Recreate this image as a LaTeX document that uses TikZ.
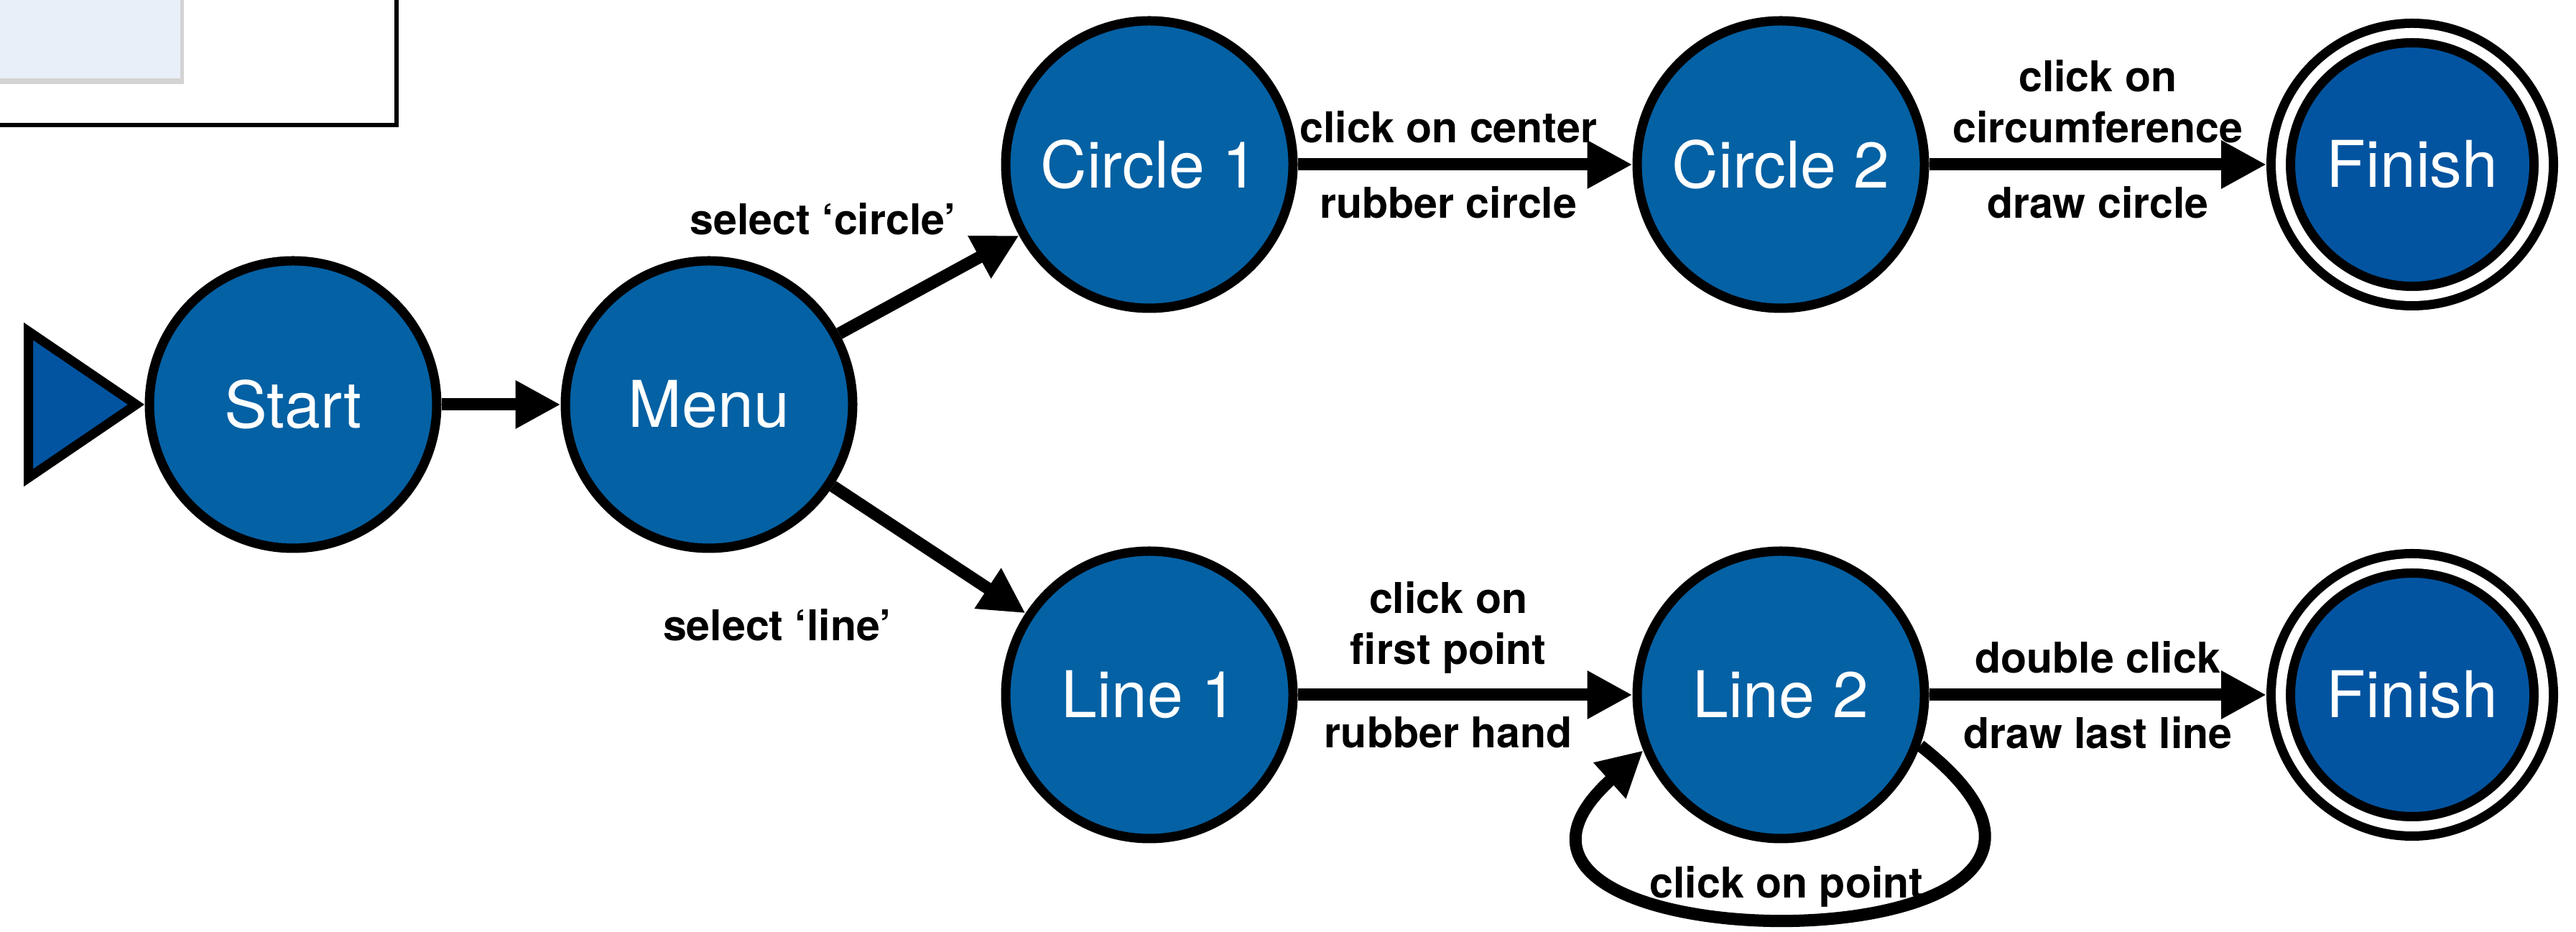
\documentclass[tikz,border=0pt]{standalone}
\usepackage{fontspec}
\setmainfont{TeX Gyre Heros}
\usepackage{tikz}
\usetikzlibrary{arrows.meta,shadows}
\definecolor{nodeblue}{HTML}{0461A4}
\definecolor{finblue}{HTML}{0254A0}
\definecolor{boxfill}{HTML}{E8EFF9}

\begin{document}
\begin{tikzpicture}
		\useasboundingbox (0,0) rectangle (35.86,12.97);
		\clip (0,0) rectangle (35.86,12.97);
		\tikzstyle{state}=[circle,draw=black,line width=1.3mm,fill=nodeblue,text=white,minimum size=4cm,inner sep=0pt,font=\fontsize{25.5}{30}\selectfont]
		\tikzstyle{accept}=[state,fill=finblue,minimum size=3.66cm,double,double distance=1.4mm,outer sep=2mm]
		\tikzstyle{trans}=[line width=1.7mm,-{Triangle[length=6.3mm,width=6.3mm]}]
		\tikzstyle{lab}=[font=\bfseries\fontsize{16.8}{20.2}\selectfont,inner sep=0pt,align=center]
		\tikzstyle{labup}=[lab,anchor=south,yshift=2.1mm]
		\tikzstyle{labdown}=[lab,anchor=north,yshift=-2.2mm]
		\fill[boxfill,drop shadow={shadow xshift=0.5mm,shadow yshift=-0.8mm,opacity=0.35}] (-1,11.88) rectangle (2.51,14);
		\draw[line width=0.6mm] (-1,11.23) rectangle (5.52,14);
		\node[state] (start) at (4.08,7.34) {Start};
		\node[state] (menu) at (9.87,7.34) {Menu};
		\node[state] (circ_1) at (16.00,10.68) {Circle 1};
		\node[state] (circ_2) at (24.79,10.68) {Circle 2};
		\node[accept] (fin_1) at (33.58,10.68) {Finish};
		\node[state] (line_1) at (16.00,3.30) {Line 1};
		\node[state] (line_2) at (24.79,3.30) {Line 2};
		\node[accept] (fin_2) at (33.58,3.30) {Finish};
		\draw[line width=1.3mm,fill=finblue,line join=miter] (start.west) ++(-0.12,0) -- ++(-1.5,1.02) -- ++(0,-2.04) -- cycle;
		\node[lab,anchor=base] (sel_c) at (11.46,9.70) {select ‘circle’};
		\node[lab,anchor=base] (sel_l) at (10.82,4.05) {select ‘line’};
		\draw[trans] (start) -- (menu);
		\draw[trans] (menu) -- (circ_1);
		\draw[trans] (menu) -- (line_1);
		\draw[trans] (circ_1) -- node[labup,pos=.45] {click on center} node[labdown,pos=.45] {rubber circle} (circ_2);
		\draw[trans] (circ_2) -- node[labup] {click on\\circumference} node[labdown] {draw circle} (fin_1);
		\draw[trans] (line_1) -- node[labup,pos=.45] {click on\\first point} node[labdown,pos=.45] {rubber hand} (line_2);
		\draw[trans] (line_2) -- node[labup] {double click} node[labdown] {draw last line} (fin_2);
		\draw[trans] (line_2.-20) .. controls +(-38:5.2) and +(-138:4.6) .. node[lab,pos=.5,anchor=base,xshift=-1.9mm,yshift=2.7mm] {click on point} (line_2.-158);
	\end{tikzpicture}
\end{document}
